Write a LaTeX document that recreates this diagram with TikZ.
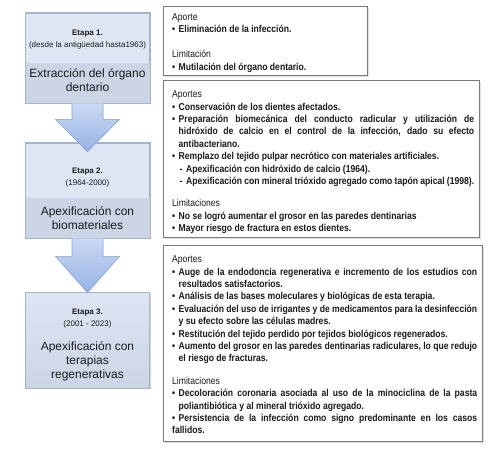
\documentclass[tikz,border=0pt]{standalone}
\usepackage{fontspec}
\setmainfont{Liberation Sans}
\newfontfamily\narrowfont[FakeStretch=0.86]{Liberation Sans}
\usetikzlibrary{calc,shadows}
\definecolor{stagetop}{HTML}{DEE6F4}
\definecolor{stageband}{HTML}{CBD5E6}
\definecolor{stageborder}{HTML}{A7B5CB}
\definecolor{arrowtop}{HTML}{CAD9F3}
\definecolor{arrowbot}{HTML}{97B2E4}
\definecolor{arrowborder}{HTML}{87A2D4}
\definecolor{boxborder}{HTML}{7A7A7A}
\definecolor{txt}{HTML}{1A1A1A}
\newcommand{\bul}{\par\noindent\hangindent=6.5pt\hangafter=1\makebox[6.5pt][l]{•}}
\newcommand{\subit}{\par\noindent\hangindent=14pt\hangafter=1\hspace*{7.5pt}\makebox[6.5pt][l]{-}}
\newcommand{\hd}[1]{\par\noindent{\mdseries #1}}
\newcommand{\gap}[1]{\par\vspace{#1}}
\tikzset{
  stage/.style={draw=stageborder, line width=0.8pt, fill=stagetop, minimum width=124pt, inner sep=0pt,
    drop shadow={shadow xshift=1.2pt, shadow yshift=-1.2pt, opacity=0.3, fill=black!60}},
  headtxt/.style={align=center, font=\fontsize{8}{12}\selectfont, text=txt, inner sep=0pt},
  titletxt/.style={align=center, font=\fontsize{12}{14}\selectfont, text=txt, inner sep=0pt},
  flowarrow/.style={draw=arrowborder, line width=0.6pt, top color=arrowtop, bottom color=arrowbot, line join=miter},
  infobox/.style={draw=boxborder, line width=1pt, fill=white, inner sep=0pt, anchor=north west,
    drop shadow={shadow xshift=1pt, shadow yshift=-1pt, opacity=0.2, fill=black!60}},
  infotxt/.style={anchor=north west, inner sep=0pt, align=justify, text=txt,
    font=\narrowfont\bfseries\fontsize{10}{12.4}\selectfont}
}
\begin{document}
\begin{tikzpicture}[x=1pt,y=-1pt]
\useasboundingbox (0,0) rectangle (504,450);
% ---------- stage boxes ----------
\node[stage, minimum height=90pt] (s1) at (87.5,58) {};
\fill[stageband] ($(s1.south west)+(0.4,-40)$) rectangle ($(s1.south east)+(-0.4,-0.4)$);
\draw[stageborder, line width=0.8pt] (s1.south west) rectangle (s1.north east);
\node[headtxt] (s1h) at ($(s1.north)+(0,27)$) {\textbf{Etapa 1.}\\(desde la antigüedad hasta1963)};
\node[titletxt] (s1t) at ($(s1.north)+(0,68)$) {Extracción del órgano\\dentario};

\node[stage, minimum height=95pt] (s2) at (87.5,190.5) {};
\fill[stageband] ($(s2.south west)+(0.4,-40)$) rectangle ($(s2.south east)+(-0.4,-0.4)$);
\draw[stageborder, line width=0.8pt] (s2.south west) rectangle (s2.north east);
\node[headtxt] (s2h) at ($(s2.north)+(0,35)$) {\textbf{Etapa 2.}\\(1964-2000)};
\node[titletxt] (s2t) at ($(s2.north)+(0,76)$) {Apexificación con\\biomateriales};

\node[stage, minimum height=96pt, top color=stagetop, bottom color=stageband] (s3) at (87.5,340) {};
\node[headtxt] (s3h) at ($(s3.north)+(0,27)$) {\textbf{Etapa 3.}\\(2001 - 2023)};
\node[titletxt] (s3t) at ($(s3.north)+(0,70)$) {Apexificación con\\terapias\\regenerativas};

% ---------- arrows ----------
\coordinate (t1) at ($(s2.north)+(0,9)$);
\draw[flowarrow] ($(s1.south)+(-15.5,0)$) -- ($(s1.south)+(-15.5,16)$) -- ($(s1.south)+(-32,16)$)
  -- (t1) -- ($(s1.south)+(32,16)$) -- ($(s1.south)+(15.5,16)$) -- ($(s1.south)+(15.5,0)$);
\coordinate (t2) at ($(s3.north)+(0,1)$);
\draw[flowarrow] ($(s2.south)+(-15.5,0)$) -- ($(s2.south)+(-15.5,18)$) -- ($(s2.south)+(-32,18)$)
  -- (t2) -- ($(s2.south)+(32,18)$) -- ($(s2.south)+(15.5,18)$) -- ($(s2.south)+(15.5,0)$);

% ---------- info boxes ----------
\node[infobox, minimum width=204pt, minimum height=69pt] (a) at (163,6) {};
\node[infotxt, text width=190pt] (at) at ($(a.north west)+(9,1.5)$) {%
\hd{Aporte}
\bul Eliminación de la infección.
\gap{13pt}
\hd{Limitación}
\bul Mutilación del órgano dentario.};

\node[infobox, minimum width=316pt, minimum height=157pt] (b) at (163,80) {};
\node[infotxt, text width=302pt] (bt) at ($(b.north west)+(9,5)$) {%
\hd{Aportes}
\bul Conservación de los dientes afectados.
\bul Preparación biomecánica del conducto radicular y utilización de\linebreak hidróxido de calcio en el control de la infección, dado su efecto\linebreak antibacteriano.
\bul Remplazo del tejido pulpar necrótico con materiales artificiales.
\subit Apexificación con hidróxido de calcio (1964).
\subit Apexificación con mineral trióxido agregado como tapón apical (1998).
\gap{10pt}
\hd{Limitaciones}
\bul No se logró aumentar el grosor en las paredes dentinarias
\bul Mayor riesgo de fractura en estos dientes.};

\node[infobox, minimum width=319pt, minimum height=196pt] (c) at (163,245) {};
\node[infotxt, text width=305pt] (ct) at ($(c.north west)+(9,5)$) {%
\hd{Aportes}
\bul Auge de la endodoncia regenerativa e incremento de los estudios con\linebreak resultados satisfactorios.
\bul Análisis de las bases moleculares y biológicas de esta terapia.
\bul Evaluación del uso de irrigantes y de medicamentos para la desinfección\linebreak y su efecto sobre las células madres.
\bul Restitución del tejido perdido por tejidos biológicos regenerados.
\bul Aumento del grosor en las paredes dentinarias radiculares, lo que redujo\linebreak el riesgo de fracturas.
\gap{10pt}
\hd{Limitaciones}
\bul Decoloración coronaria asociada al uso de la minociclina de la pasta\linebreak poliantibiótica y al mineral trióxido agregado.
\bul Persistencia de la infección como signo predominante en los casos\linebreak fallidos.};
\end{tikzpicture}
\end{document}
